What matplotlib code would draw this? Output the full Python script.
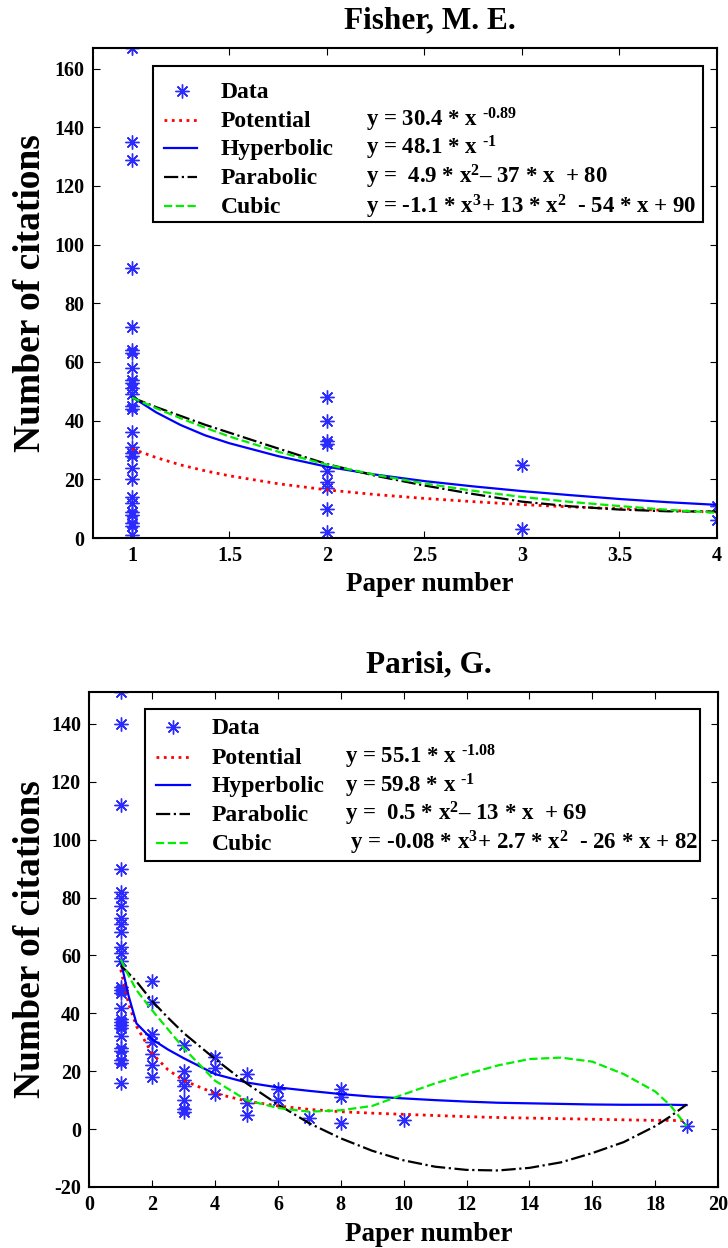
import matplotlib
matplotlib.use("Agg")
import matplotlib.pyplot as plt
from matplotlib.patches import Rectangle
from matplotlib.transforms import offset_copy

plt.rcParams.update({
    "font.family": ["Liberation Serif", "DejaVu Serif"],
    "font.weight": "bold",
    "axes.labelweight": "bold",
    "axes.titleweight": "bold",
    "axes.unicode_minus": False,
    "mathtext.fontset": "custom",
    "mathtext.rm": "Liberation Serif:bold",
    "mathtext.it": "Liberation Serif:bold",
    "mathtext.bf": "Liberation Serif:bold",
    "mathtext.default": "rm",
    "axes.linewidth": 1.5,
    "xtick.direction": "in",
    "ytick.direction": "in",
    "xtick.top": True,
    "ytick.right": True,
    "xtick.major.size": 5,
    "ytick.major.size": 5,
})

# --- Fisher, M. E. : citations of each paper, grouped by paper number ---
fisher_papers = [1, 2, 3, 4]
fisher_cites = [
    [167, 135, 129, 92, 72, 64, 63, 58, 54, 53, 51, 49, 45, 44,
     36, 31, 29, 28, 24, 20, 14, 12, 9, 8, 5, 4, 1],
    [48, 40, 33, 32, 23, 19, 17, 10, 2],
    [25, 3],
    [11, 6],
]
fisher_fit_x = [1, 1.125, 1.25, 1.375, 1.5, 1.75, 2, 2.25, 2.5, 2.75, 3, 3.25, 3.5, 3.75, 4]
fisher_potential = [30.4, 27.4, 24.9, 22.9, 21.2, 18.5, 16.4, 14.8, 13.5, 12.4, 11.4,
                    10.6, 10.0, 9.4, 8.8]
fisher_hyperbolic = [48.1, 42.8, 38.5, 35.0, 32.3, 27.9, 24.3, 21.6, 19.4, 17.6, 16.0,
                     14.6, 13.3, 12.2, 11.3]
fisher_parabolic = [47.9, 44.6, 41.6, 38.6, 35.9, 30.5, 25.2, 21.2, 17.9, 15.0, 12.4,
                    10.8, 9.7, 9.1, 9.0]
fisher_cubic = [47.9, 44.2, 40.8, 37.6, 34.6, 29.4, 25.0, 21.5, 18.6, 16.1, 14.0,
                12.3, 10.9, 9.6, 8.6]
fisher_eqs = [
    "y = 30.4 * x $^{\u20100.89}$",
    "y = 48.1 * x $^{\u20101}$",
    "y =  4.9 * x$^{2}$\u2013 37 * x  + 80",
    "y = -1.1 * x$^{3}$+ 13 * x$^{2}$  - 54 * x + 90",
]

# --- Parisi, G. ---
parisi_papers = [1, 2, 3, 4, 5, 6, 7, 8, 10, 19]
parisi_cites = [
    [151, 140, 112, 90, 82, 80, 77, 73, 71, 68, 63, 61, 58, 49,
     48, 47, 42, 38, 37, 36, 35, 32, 28, 27, 24, 23, 16],
    [51, 44, 33, 30, 26, 22, 18],
    [29, 20, 17, 15, 10, 7, 6],
    [25, 21, 12],
    [19, 9, 5],
    [14, 10],
    [4],
    [14, 11, 2],
    [3],
    [1],
]
parisi_fit_x = [1, 1.25, 1.5, 2, 2.5, 3, 4, 5, 6, 7, 8, 9, 10, 11, 12,
                13, 14, 15, 16, 17, 18, 18.5, 19]
parisi_potential = [55.1, 43.3, 35.5, 26.1, 20.5, 16.8, 12.3, 9.7, 8.0, 6.8, 6.0, 5.5,
                    5.1, 4.7, 4.3, 4.0, 3.8, 3.6, 3.4, 3.2, 3.0, 3.0, 2.9]
parisi_hyperbolic = [58, 46, 36.5, 31, 27.5, 24.5, 19, 16.1, 14.4, 13.2, 12.1, 11.2,
                     10.6, 10.0, 9.5, 9.1, 8.9, 8.7, 8.5, 8.4, 8.4, 8.4, 8.3]
parisi_parabolic = [56.5, 53.8, 51, 44.2, 38.5, 33.2, 24.2, 15.8, 8.5, 2.0, -3.2, -7.5,
                    -10.8, -13, -14.1, -14.3, -13.4, -11.5, -8.3, -4.5, 1.0, 4.5, 8.5]
parisi_cubic = [58.6, 53, 48, 41, 34.5, 28, 16.7, 10, 7.3, 6.0, 6.5, 8, 12, 15.8, 19,
                22, 24.2, 24.7, 23.3, 19, 13, 8, 1]
parisi_eqs = [
    "y = 55.1 * x $^{\u20101.08}$",
    "y = 59.8 * x $^{\u20101}$",
    "y =  0.5 * x$^{2}$\u2013 13 * x  + 69",
    " y = -0.08 * x$^{3}$+ 2.7 * x$^{2}$  - 26 * x + 82",
]

fit_names = ["Potential", "Hyperbolic", "Parabolic", "Cubic"]
fit_styles = [
    dict(color="red", linestyle=":", linewidth=2.0),
    dict(color="blue", linestyle="-", linewidth=1.6),
    dict(color="black", linestyle="-.", linewidth=1.6),
    dict(color="#00ee00", linestyle="--", linewidth=1.6),
]
star = dict(marker=(8, 2, 0), markersize=10, markeredgewidth=1.0,
            color="#2b2bff", linestyle="none")

# legend box layout in axes fractions: frame, handle span, text columns, row centres
top_box = dict(frame=(0.096, 0.645, 0.978, 0.963), handle=(0.114, 0.167), mark=0.143,
               name_x=0.205, eq_x=0.437,
               rows=[0.912, 0.854, 0.796, 0.737, 0.677])
bot_box = dict(frame=(0.089, 0.659, 0.971, 0.966), handle=(0.106, 0.160), mark=0.133,
               name_x=0.195, eq_x=0.407,
               rows=[0.929, 0.869, 0.812, 0.754, 0.695])


def draw_key(ax, eqs, box, fs=17, eq_fs=16.5):
    l, b, r, t = box["frame"]
    ax.add_patch(Rectangle((l, b), r - l, t - b, transform=ax.transAxes,
                           facecolor="white", edgecolor="black", lw=1.5,
                           zorder=5, clip_on=False))
    text_tr = offset_copy(ax.transAxes, fig=ax.figure, y=-5, units="points")
    rows = box["rows"]
    ax.plot([box["mark"]], [rows[0]], transform=ax.transAxes, clip_on=False,
            zorder=6, **star)
    ax.text(box["name_x"], rows[0], "Data", transform=text_tr, fontsize=fs,
            va="baseline", zorder=6)
    for y, name, eq, st in zip(rows[1:], fit_names, eqs, fit_styles):
        ax.plot(box["handle"], [y, y], transform=ax.transAxes, clip_on=False,
                zorder=6, **st)
        ax.text(box["name_x"], y, name, transform=text_tr, fontsize=fs,
                va="baseline", zorder=6)
        ax.text(box["eq_x"], y, eq, transform=text_tr, fontsize=eq_fs,
                va="baseline", zorder=6)


def draw_panel(ax, papers, cites, fit_x, fits, eqs, title, xlim, ylim,
               xticks, yticks, box):
    for p, vals in zip(papers, cites):
        ax.plot([p] * len(vals), vals, **star)
    for ys, st in zip(fits, fit_styles):
        ax.plot(fit_x, ys, **st)

    ax.set_xlim(*xlim)
    ax.set_ylim(*ylim)
    ax.set_xticks(xticks)
    ax.set_yticks(yticks)
    ax.set_xticklabels([f"{t:g}" for t in xticks])
    ax.tick_params(labelsize=14.5, pad=6)
    ax.set_title(title, fontsize=22.5, x=0.54, pad=14)
    ax.set_xlabel("Paper number", fontsize=19.5)
    ax.set_ylabel("Number of citations", fontsize=27)
    ax.xaxis.set_label_coords(0.54, -0.07)
    draw_key(ax, eqs, box)


fig = plt.figure(figsize=(7.28, 12.48), dpi=100)
ax_top = fig.add_axes([0.1277, 0.5689, 0.857, 0.3926])
ax_bot = fig.add_axes([0.1227, 0.0489, 0.8636, 0.3966])

draw_panel(ax_top, fisher_papers, fisher_cites, fisher_fit_x,
           [fisher_potential, fisher_hyperbolic, fisher_parabolic, fisher_cubic],
           fisher_eqs, "Fisher, M. E.", (0.8, 4), (0, 167),
           [1, 1.5, 2, 2.5, 3, 3.5, 4], list(range(0, 161, 20)), top_box)
ax_top.yaxis.set_label_coords(-0.072, 0.5)

draw_panel(ax_bot, parisi_papers, parisi_cites, parisi_fit_x,
           [parisi_potential, parisi_hyperbolic, parisi_parabolic, parisi_cubic],
           parisi_eqs, "Parisi, G.", (0, 20), (-20, 151),
           list(range(0, 21, 2)), list(range(-20, 141, 20)), bot_box)
ax_bot.yaxis.set_label_coords(-0.066, 0.5)

fig.savefig("out.png", dpi=100)
